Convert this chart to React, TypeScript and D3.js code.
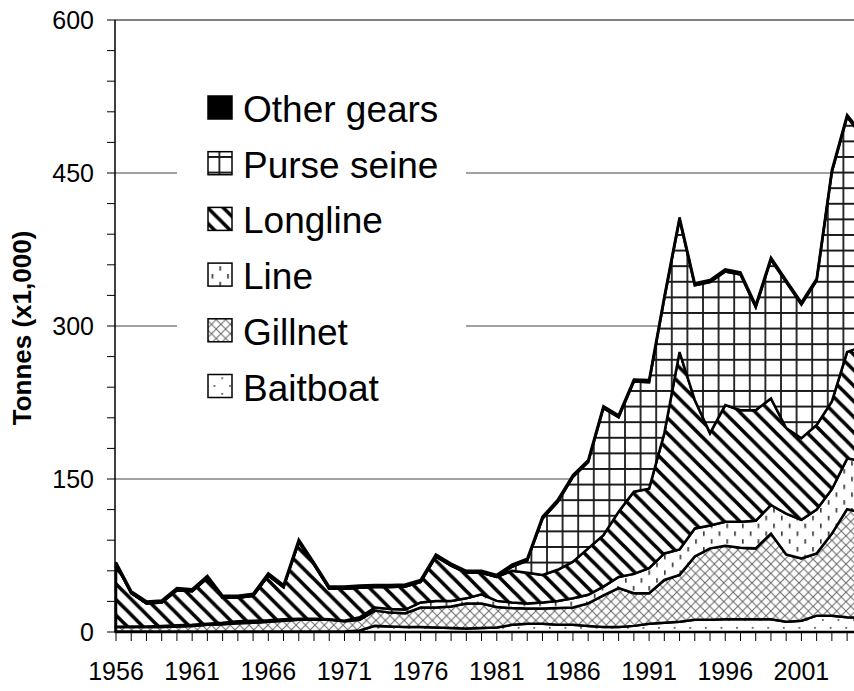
import React from "react";
import * as d3 from "d3";

// Categories: one per year, 1956..2005 (2005 lies just past the right edge of the picture)
const years = Array.from({ length: 50 }, (_, i) => 1956 + i);

// Catches by gear, tonnes (x1,000)
const baitboat = [
  0.5, 0.5, 0.5, 0.5, 0.5, 0.5, 0.5, 0.5, 0.5, 0.5, 0.5, 0.5, 0.5, 0.5, 0.5, 0.5,
  1.5, 6, 5.5, 5, 5, 4.5, 4, 3.5, 4, 4.5,
  7, 8, 8, 7, 7, 6, 5, 5, 6, 8,
  9, 10, 12, 12, 12.5, 12.5, 12.5, 12.5, 10, 11,
  16, 16, 14.5, 14,
];
const gillnet = [
  4.5, 4.5, 4.5, 4.5, 5, 5.5, 6.5, 7, 8, 8.5, 9.5, 10.5, 11.5, 11.5, 11.5, 10,
  10.5, 15, 13.5, 13.5, 19, 19.5, 21, 24.5, 24, 20,
  16.5, 15, 15, 16.5, 17, 22, 31, 38, 32, 30,
  42, 46, 62, 70, 72, 70, 69.5, 84, 66, 61,
  61, 80.5, 106, 103,
];
const line = [
  0.2, 0.5, 0.5, 1, 1, 1, 1, 1.5, 2, 2, 1.5, 1.5, 1, 1, 0.5, 0.5,
  2.5, 3, 3.5, 3.5, 5, 6.5, 5.5, 5, 9, 6,
  5.5, 5, 6, 7, 9, 8.5, 8.5, 11, 19, 24.5,
  26, 25, 27.5, 22.5, 23.5, 25.5, 27, 28, 40, 38,
  43, 43.5, 49.5, 51,
];
const longline = [
  61, 32.5, 22.5, 23, 34.5, 33, 45, 24.5, 23, 24.5, 44, 31.5, 75.5, 53, 30, 31.5,
  29, 20, 21.5, 22.5, 20, 43.5, 34.5, 25, 21, 23.5,
  31, 30, 27, 30.5, 36, 45.5, 50.5, 64, 80.5, 78,
  118, 193.5, 126, 90.5, 114.5, 109.5, 108.5, 104.5, 84, 80,
  83, 86, 104.5, 112,
];
const purseSeine = [
  0, 0, 0, 0, 0, 0, 0, 0, 0, 0, 0, 0, 0, 0, 0, 0,
  0, 0, 0, 0, 0, 0, 0, 0, 0, 0,
  4, 12, 55, 66.5, 83, 84.5, 124.5, 92.5, 108, 104.5,
  132, 130, 112.5, 148, 131, 133, 101, 136, 143, 131,
  141.5, 225, 230.5, 206,
];
const otherGears = [
  2, 2, 2, 2, 2, 2, 2, 2, 2, 2, 2, 2, 2, 2, 2, 2,
  2, 2, 2, 2, 2, 2, 2, 2, 2, 2,
  2, 2, 2, 2, 2, 2, 2, 2, 2, 2,
  2, 2, 2, 2, 2, 2, 2, 2, 2, 2,
  2, 2, 2, 2,
];

const seriesNames = ["Baitboat", "Gillnet", "Line", "Longline", "Purse seine", "Other gears"];
const legendOrder = ["Other gears", "Purse seine", "Longline", "Line", "Gillnet", "Baitboat"];
const yTicks = [0, 150, 300, 450, 600];
const xTickLabels = [1956, 1961, 1966, 1971, 1976, 1981, 1986, 1991, 1996, 2001];

const FONT = "'Liberation Sans', Arial, sans-serif";
const T = 15.6; // pattern tile
const G = 9.4; // crosshatch tile

const fills: Record<string, string> = {
  Baitboat: "url(#pBait)",
  Gillnet: "url(#pGill)",
  Line: "url(#pLine)",
  Longline: "url(#pLong)",
  "Purse seine": "url(#pPurse)",
  "Other gears": "#000",
};

export default function App() {
  const W = 854;
  const H = 691;
  const x = d3.scaleLinear().domain([1956, 2004]).range([116, 847.1]);
  const y = d3.scaleLinear().domain([0, 600]).range([632, 20]);

  const rows = years.map((yr, i) => ({
    year: yr,
    Baitboat: baitboat[i],
    Gillnet: gillnet[i],
    Line: line[i],
    Longline: longline[i],
    "Purse seine": purseSeine[i],
    "Other gears": otherGears[i],
  }));
  const stacked = d3.stack<any>().keys(seriesNames)(rows);
  const area = d3
    .area<any>()
    .x((d) => x(d.data.year))
    .y0((d) => y(d[0]))
    .y1((d) => y(d[1]));

  const minor = d3.range(0, 601, 30);
  const tickYears = years.filter((yr) => x(yr) <= W);

  const legendX = 208;
  const legendTop = 96;
  const legendStep = 55.7;

  return (
    <>
      <style>{"body{margin:0}"}</style>
      <svg width={W} height={H} style={{ display: "block", background: "#fff" }}>
        <defs>
          <pattern id="pBait" width={T} height={T} patternUnits="userSpaceOnUse">
            <rect width={T} height={T} fill="#fff" />
            <rect x={3} y={3} width={1.6} height={1.6} fill="#333" />
            <rect x={3 + T / 2} y={3 + T / 2} width={1.6} height={1.6} fill="#333" />
          </pattern>
          <pattern id="pGill" width={G} height={G} patternUnits="userSpaceOnUse">
            <rect width={G} height={G} fill="#fff" />
            <path
              d={`M-1,-1 L${G + 1},${G + 1} M${G + 1},-1 L-1,${G + 1}`}
              stroke="#666"
              strokeWidth={1}
            />
          </pattern>
          <pattern id="pLine" width={T} height={T} patternUnits="userSpaceOnUse">
            <rect width={T} height={T} fill="#fff" />
            <rect x={1} y={1} width={1.6} height={4.5} fill="#333" />
            <rect x={1 + T / 2} y={1 + T / 2} width={1.6} height={4.5} fill="#333" />
          </pattern>
          <pattern id="pLong" width={T} height={T} patternUnits="userSpaceOnUse">
            <rect width={T} height={T} fill="#fff" />
            <path
              d={[-T, 0, T].map((c) => `M${-T},${c - T} L${2 * T},${c + 2 * T}`).join(" ")}
              stroke="#000"
              strokeWidth={3.6}
            />
          </pattern>
          <pattern id="pPurse" width={T} height={T} patternUnits="userSpaceOnUse">
            <rect width={T} height={T} fill="#fff" />
            <path d={`M1,0 L1,${T} M0,1 L${T},1`} stroke="#1a1a1a" strokeWidth={1.8} />
          </pattern>
        </defs>

        {/* gridlines */}
        {yTicks
          .filter((v) => v > 0)
          .map((v) => (
            <line
              key={"g" + v}
              x1={115}
              x2={W}
              y1={y(v)}
              y2={y(v)}
              stroke={v === 600 ? "#808080" : "#444"}
              strokeWidth={v === 600 ? 2 : 1}
            />
          ))}

        {/* stacked areas */}
        {stacked.map((s) => (
          <path
            key={s.key}
            d={area(s) || ""}
            fill={fills[s.key]}
            stroke="#000"
            strokeWidth={2.5}
            strokeLinejoin="miter"
            strokeMiterlimit={3}
          />
        ))}

        {/* legend */}
        <rect x={177} y={75} width={289} height={335} fill="#fff" />
        {legendOrder.map((name, i) => {
          const ty = legendTop + i * legendStep;
          return (
            <g key={name}>
              <rect
                x={legendX}
                y={ty}
                width={24}
                height={23}
                fill={fills[name]}
                stroke="#000"
                strokeWidth={1.5}
              />
              <text x={legendX + 35} y={ty + 26} fontFamily={FONT} fontSize={37} fill="#000">
                {name}
              </text>
            </g>
          );
        })}

        {/* y axis */}
        <line x1={115} x2={115} y1={y(600)} y2={y(0)} stroke="#000" strokeWidth={1.5} />
        {minor.map((v) => (
          <line key={"t" + v} x1={107} x2={115} y1={y(v)} y2={y(v)} stroke="#000" strokeWidth={1} />
        ))}
        {yTicks.map((v) => (
          <text
            key={"yl" + v}
            x={94}
            y={y(v) + 9}
            textAnchor="end"
            fontFamily={FONT}
            fontSize={25}
            fill="#000"
          >
            {v}
          </text>
        ))}
        <text
          transform={`translate(31,328) rotate(-90)`}
          textAnchor="middle"
          fontFamily={FONT}
          fontSize={26}
          fontWeight="bold"
          fill="#000"
        >
          Tonnes (x1,000)
        </text>

        {/* x axis */}
        <line x1={115} x2={W} y1={y(0)} y2={y(0)} stroke="#000" strokeWidth={2} />
        {tickYears.map((yr) => (
          <line
            key={"xt" + yr}
            x1={x(yr)}
            x2={x(yr)}
            y1={y(0)}
            y2={y(0) + 9}
            stroke="#000"
            strokeWidth={1}
          />
        ))}
        {xTickLabels.map((yr) => (
          <text
            key={"xl" + yr}
            x={x(yr)}
            y={680}
            textAnchor="middle"
            fontFamily={FONT}
            fontSize={25}
            fill="#000"
          >
            {yr}
          </text>
        ))}
      </svg>
    </>
  );
}
